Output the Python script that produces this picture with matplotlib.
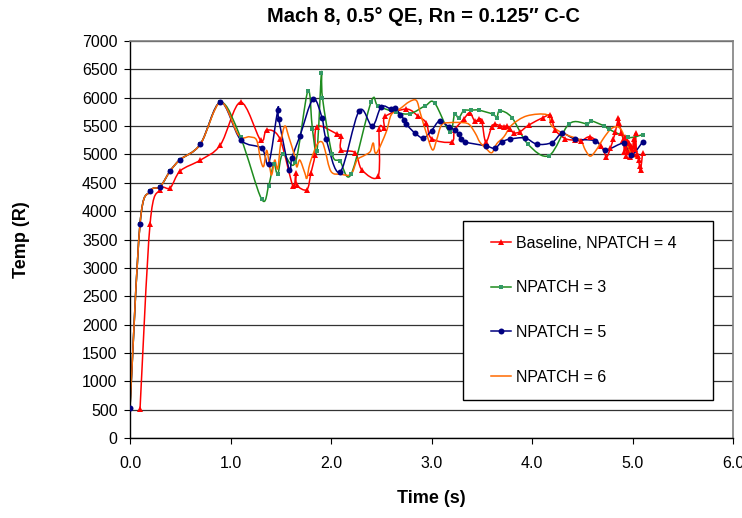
import matplotlib
matplotlib.use("Agg")
import matplotlib.pyplot as plt
import numpy as np
from matplotlib import font_manager
from matplotlib.lines import Line2D
from matplotlib.patches import PathPatch
from matplotlib.path import Path
from matplotlib.legend_handler import HandlerLine2D

# Baseline, NPATCH = 4
t4 = [0.1, 0.2, 0.3, 0.4, 0.5, 0.7, 0.9, 1.1, 1.3, 1.36, 1.49, 1.62, 1.65, 1.66, 1.76,
      1.8, 1.84, 1.86, 2.06, 2.1, 2.1, 2.24, 2.31, 2.47, 2.48, 2.53, 2.54, 2.75, 2.87, 2.95,
      3.0, 3.2, 3.23, 3.32, 3.38, 3.43, 3.47, 3.5, 3.54, 3.6, 3.63, 3.68, 3.72, 3.75, 3.78,
      3.82, 3.88, 3.97, 4.11, 4.18, 4.2, 4.23, 4.33, 4.43, 4.49, 4.58, 4.69, 4.74, 4.78, 4.81,
      4.83, 4.86, 4.87, 4.89, 4.91, 4.92, 4.93, 4.94, 4.95, 4.96, 4.97, 4.98, 4.99, 5.0, 5.01,
      5.02, 5.03, 5.04, 5.05, 5.06, 5.07, 5.08, 5.1]
T4 = [520, 3780, 4380, 4410, 4710, 4900, 5170, 5920, 5250, 5430, 5280, 4450, 4670, 4460, 4380,
      4670, 4990, 5490, 5360, 5320, 5080, 5030, 4720, 4620, 5450, 5470, 5670, 5800, 5670, 5550,
      5280, 5220, 5430, 5620, 5735, 5590, 5620, 5590, 5220, 5490, 5530, 5510, 5490, 5500, 5450,
      5380, 5400, 5520, 5650, 5700, 5610, 5430, 5280, 5250, 5240, 5310, 5150, 4960, 5110, 5280,
      5400, 5640, 5550, 5370, 5250, 5050, 5300, 4980, 5250, 5050, 5200, 4950, 5150, 5000, 5280,
      5100, 5380, 5000, 4980, 4900, 4800, 4720, 5020]

# NPATCH = 3
t3 = [0.0, 0.1, 0.2, 0.3, 0.4, 0.5, 0.7, 0.9, 1.1, 1.31, 1.38, 1.43, 1.47, 1.52, 1.645,
      1.77, 1.815, 1.86, 1.905, 1.915, 2.01, 2.09, 2.2, 2.4, 2.47, 2.65, 2.79, 2.94, 3.03, 3.18,
      3.23, 3.27, 3.32, 3.39, 3.47, 3.61, 3.65, 3.68, 3.8, 3.96, 4.17, 4.37, 4.55, 4.59, 4.72,
      4.77, 4.96, 5.1]
T3 = [530, 3780, 4350, 4430, 4710, 4910, 5180, 5920, 5300, 4210, 4450, 4830, 4650, 5010, 4860,
      6120, 5450, 5060, 6430, 6000, 5010, 4880, 4650, 5930, 5850, 5740, 5720, 5860, 5910, 5400,
      5710, 5640, 5770, 5780, 5780, 5710, 5650, 5770, 5650, 5180, 4980, 5540, 5540, 5590, 5500,
      5440, 5300, 5350]

# NPATCH = 5
t5 = [0.0, 0.1, 0.2, 0.3, 0.4, 0.5, 0.7, 0.9, 1.1, 1.31, 1.38, 1.47, 1.48, 1.585, 1.61,
      1.69, 1.82, 1.91, 1.95, 2.09, 2.28, 2.41, 2.5, 2.6, 2.64, 2.69, 2.73, 2.75, 2.84, 2.92,
      3.0, 3.08, 3.17, 3.23, 3.27, 3.29, 3.33, 3.54, 3.63, 3.7, 3.78, 3.93, 4.05, 4.2, 4.3,
      4.43, 4.63, 4.73, 4.92, 4.99, 5.1]
T5 = [530, 3780, 4350, 4430, 4710, 4910, 5180, 5920, 5260, 5110, 4840, 5780, 5620, 4730, 4940,
      5320, 5970, 5650, 5280, 4690, 5770, 5500, 5840, 5800, 5820, 5700, 5610, 5530, 5370, 5290,
      5420, 5590, 5490, 5430, 5360, 5280, 5220, 5150, 5110, 5220, 5270, 5290, 5180, 5210, 5370,
      5270, 5240, 5080, 5200, 4990, 5220]

# NPATCH = 6 (no markers)
t6 = [0.0, 0.1, 0.2, 0.3, 0.4, 0.5, 0.7, 0.9, 1.08, 1.19, 1.26, 1.3, 1.33, 1.36, 1.39,
      1.41, 1.44, 1.47, 1.5, 1.54, 1.58, 1.64, 1.66, 1.69, 1.74, 1.76, 1.79, 1.86, 1.91, 1.94,
      2.0, 2.1, 2.2, 2.26, 2.33, 2.39, 2.42, 2.45, 2.55, 2.6, 2.69, 2.78, 2.85, 2.89, 2.95,
      3.01, 3.05, 3.1, 3.18, 3.32, 3.38, 3.44, 3.48, 3.54, 3.6, 3.65, 3.72, 3.8, 3.95, 4.15,
      4.19, 4.25, 4.35, 4.48, 4.53, 4.58, 4.64, 4.71, 4.78, 4.84, 4.89, 4.94, 4.99, 5.06]
T6 = [530, 3780, 4350, 4430, 4710, 4910, 5180, 5920, 5340, 5310, 5250, 4900, 4790, 5070, 4780,
      4640, 4900, 4750, 5200, 5500, 5310, 4960, 4780, 4900, 4670, 4580, 4840, 5170, 5220, 5080,
      4700, 4650, 4650, 4900, 4980, 5050, 5200, 5020, 5400, 5700, 5810, 5930, 5950, 5720, 5370,
      5080, 5250, 5520, 5560, 5560, 5520, 5360, 5220, 5110, 5030, 5190, 5310, 5520, 5680, 5700,
      5520, 5430, 5340, 5250, 5080, 4970, 5080, 5280, 5440, 5490, 5430, 5200, 5000, 4930]

TITLE = "Mach 8, 0.5\u00b0 QE, Rn = 0.125\u2033 C-C"
XTICKS = [0, 1, 2, 3, 4, 5, 6]
YTICKS = list(range(0, 7001, 500))

names = {f.name for f in font_manager.fontManager.ttflist}
narrow = "Liberation Sans Narrow" if "Liberation Sans Narrow" in names else "Liberation Sans"
plt.rcParams["font.family"] = ["Liberation Sans", "DejaVu Sans"]


def smooth_path(x, y):
    # Excel-style smoothed line: cubic bezier through every point
    pts = np.column_stack([x, y]).astype(float)
    n = len(pts)
    verts = [pts[0]]
    codes = [Path.MOVETO]
    for i in range(n - 1):
        p0 = pts[max(i - 1, 0)]
        p1 = pts[i]
        p2 = pts[i + 1]
        p3 = pts[min(i + 2, n - 1)]
        verts += [p1 + (p2 - p0) / 6, p2 - (p3 - p1) / 6, p2]
        codes += [Path.CURVE4] * 3
    return Path(verts, codes)


fig = plt.figure(figsize=(7.42, 5.18), dpi=100)
ax = fig.add_axes([130 / 742, 1 - 438 / 518, 603 / 742, 397 / 518])

series = [
    ("Baseline, NPATCH = 4", t4, T4, "#FF0000", "#FF0000", "^", 4.5),
    ("NPATCH = 3", t3, T3, "#1E8C1E", "#339966", "s", 3.2),
    ("NPATCH = 5", t5, T5, "#000080", "#000080", "o", 4.3),
    ("NPATCH = 6", t6, T6, "#FF6A00", None, None, 0),
]

handles = []
for label, xs, ys, lc, mc, mk, ms in series:
    ax.add_patch(PathPatch(smooth_path(xs, ys), facecolor="none", edgecolor=lc,
                           linewidth=1.1, zorder=2))
    if mk:
        ax.plot(xs, ys, linestyle="none", marker=mk, markersize=ms, color=mc,
                markeredgewidth=0, zorder=3)
    handles.append(Line2D([], [], color=lc, linewidth=1.1, marker=mk or "",
                          markersize=ms, markerfacecolor=mc, markeredgewidth=0, label=label))

ax.set_xlim(0, 6)
ax.set_ylim(0, 7000)
ax.set_xticks(XTICKS)
ax.set_xticklabels([f"{v:.1f}" for v in XTICKS])
ax.set_yticks(YTICKS)
ax.tick_params(axis="both", direction="out", length=4, width=0.8, labelsize=11.5, color="black")
ax.tick_params(axis="y", pad=5)
ax.tick_params(axis="x", pad=9)
ax.yaxis.grid(True, color="#333333", linewidth=0.9)
ax.set_axisbelow(True)
for side in ("top", "right"):
    ax.spines[side].set_color("#808080")
    ax.spines[side].set_linewidth(1.2)
for side in ("left", "bottom"):
    ax.spines[side].set_color("black")
    ax.spines[side].set_linewidth(1.0)

label_font = dict(family=[narrow, "Liberation Sans", "DejaVu Sans"], fontweight="bold", fontsize=13)
ax.set_xlabel("Time (s)", **label_font)
ax.set_ylabel("Temp (R)", **label_font)
ax.xaxis.set_label_coords(0.5, (438 - 490) / 397)
ax.yaxis.set_label_coords((30 - 130) / 603, 0.5)
fig.text(423 / 742, 1 - 17 / 518, TITLE, ha="center", va="center",
         family=[narrow, "Liberation Sans", "DejaVu Sans"], fontweight="bold", fontsize=14.5)

leg = ax.legend(handles=handles, loc="upper left", mode="expand",
                bbox_to_anchor=(332.7 / 603, 42.3 / 397, 250.6 / 603, 175 / 397),
                borderaxespad=0, fontsize=11.5, labelspacing=1.85, borderpad=0.95,
                handlelength=2.1, handletextpad=0.3, fancybox=False, framealpha=1,
                edgecolor="black",
                handler_map={Line2D: HandlerLine2D(xpad=0.8)})
leg.get_frame().set_linewidth(1.0)

fig.savefig("out.png", dpi=100)
